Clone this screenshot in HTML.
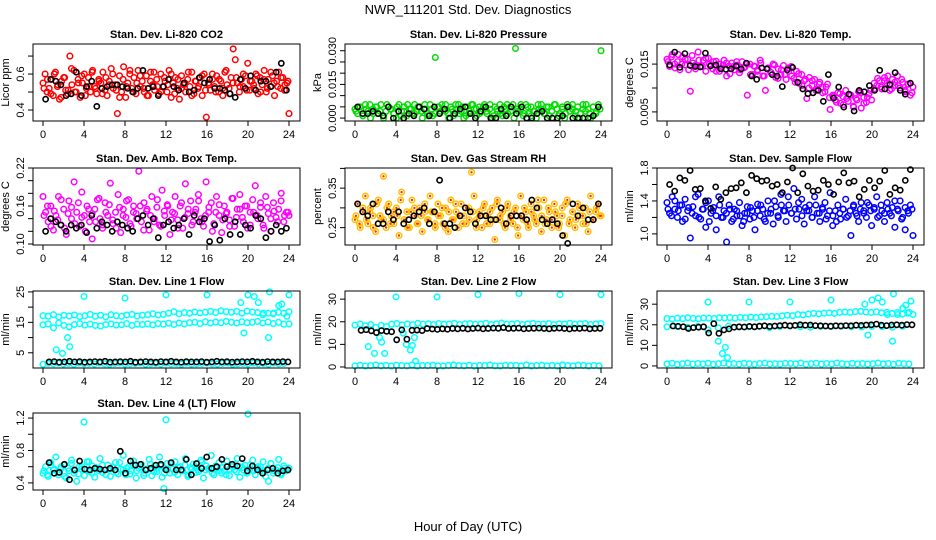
<!DOCTYPE html>
<html><head><meta charset="utf-8"><title>NWR_111201 Std. Dev. Diagnostics</title>
<style>
html,body{margin:0;padding:0;background:#fff;}
svg{display:block;font-family:"Liberation Sans",sans-serif;}
</style></head>
<body>
<svg id="chart" width="936" height="540" viewBox="0 0 936 540" xmlns="http://www.w3.org/2000/svg">
<rect x="0" y="0" width="936" height="540" fill="#fff"/>
<text x="468" y="14" text-anchor="middle" font-size="13">NWR_111201 Std. Dev. Diagnostics</text>
<text x="468" y="531" text-anchor="middle" font-size="13">Hour of Day (UTC)</text>
</svg>
<script>
// ---------- data ----------
const hourTicks = [0,4,8,12,16,20,24];

const co2Red = [0.55,0.60,0.50,0.52,0.57,0.48,0.61,0.53,0.46,0.56,0.58,0.51,0.49,0.70,0.54,0.62,0.50,0.57,0.47,0.55,
0.60,0.52,0.58,0.50,0.62,0.53,0.49,0.57,0.55,0.61,0.51,0.48,0.56,0.63,0.52,0.54,0.38,0.59,0.50,0.64,
0.47,0.55,0.60,0.52,0.58,0.49,0.62,0.53,0.56,0.50,0.59,0.48,0.61,0.54,0.51,0.57,0.49,0.60,0.53,0.56,
0.50,0.62,0.47,0.55,0.58,0.52,0.46,0.59,0.54,0.50,0.57,0.53,0.61,0.49,0.56,0.52,0.58,0.48,0.60,0.36,
0.55,0.51,0.57,0.53,0.59,0.50,0.56,0.48,0.61,0.54,0.52,0.58,0.74,0.68,0.55,0.50,0.57,0.53,0.59,0.66,
0.51,0.56,0.52,0.60,0.49,0.58,0.54,0.62,0.50,0.57,0.53,0.59,0.48,0.56,0.61,0.52,0.58,0.54,0.55,0.38];
const co2Red2 = [0.52,0.57,0.49,0.60,0.54,0.47,0.58,0.51,0.63,0.50,0.55,0.59,0.48,0.53,0.61,0.52,0.56,0.49,0.58,0.54,0.60,0.51,0.47,0.57,0.53,0.62,0.50,0.55,0.59,0.52,0.48,0.56,0.61,0.53,0.50,0.58,0.54,0.60,0.49,0.57,0.52,0.55,0.61,0.48,0.56,0.53,0.59,0.51,0.54,0.60,0.50,0.57,0.52,0.62,0.49,0.55,0.58,0.53,0.60,0.51,0.56,0.54,0.59,0.50,0.57,0.52,0.61,0.55,0.53,0.58,0.51,0.56];
const co2Black = [0.46,0.57,0.56,0.54,0.48,0.49,0.61,0.48,0.53,0.56,0.42,0.52,0.53,0.54,0.54,0.53,0.52,0.50,0.52,0.62,
0.52,0.53,0.48,0.53,0.57,0.53,0.51,0.55,0.50,0.51,0.58,0.55,0.57,0.52,0.52,0.51,0.49,0.47,0.57,0.52,
0.59,0.51,0.56,0.56,0.53,0.61,0.66,0.51];

const presGreen = [0.004,0.002,0.005,0.001,0.006,0.003,0.000,0.004,0.005,0.002,0.006,0.001,0.003,0.005,0.004,0.002,0.000,0.006,0.003,0.005,0.001,0.004,0.002,0.006,0.003,0.005,0.000,0.004,0.002,0.006,0.001,0.027,0.005,0.003,0.004,0.006,0.002,0.005,0.001,0.004,0.006,0.003,0.000,0.005,0.002,0.006,0.004,0.001,0.005,0.003,0.006,0.002,0.004,0.000,0.005,0.003,0.006,0.001,0.004,0.002,0.005,0.006,0.031,0.003,0.004,0.001,0.006,0.002,0.005,0.003,0.000,0.004,0.006,0.002,0.005,0.001,0.003,0.006,0.004,0.002,0.005,0.000,0.006,0.003,0.004,0.001,0.005,0.002,0.006,0.003,0.004,0.000,0.005,0.002,0.006,0.030];
const presGreen2 = [0.003,0.005,0.001,0.004,0.006,0.002,0.005,0.003,0.000,0.006,0.004,0.002,0.005,0.001,0.003,0.006,0.004,0.002,0.005,0.003,0.006,0.001,0.004,0.002,0.005,0.006,0.003,0.000,0.004,0.006,0.002,0.005,0.001,0.003,0.006,0.004,0.002,0.005,0.003,0.006,0.001,0.004,0.002,0.005,0.006,0.003,0.000,0.004,0.006,0.002,0.005,0.001,0.003,0.006,0.004,0.002,0.005,0.003,0.006,0.001,0.004,0.002,0.005,0.006,0.003,0.000,0.004,0.006,0.002,0.005,0.003,0.004];
const presBlack = [0.005,0.002,0.002,0.003,0.002,0.001,0.005,0.000,0.003,0.000,0.002,0.001,0.005,0.004,0.001,0.005,0.002,0.004,0.000,0.002,0.004,0.005,0.002,0.000,0.003,0.005,0.000,0.000,0.004,0.001,0.005,0.002,0.005,0.000,0.000,0.002,0.003,0.000,0.000,0.000,0.001,0.005,0.000,0.000,0.000,0.000,0.001,0.005];

const tempMagenta = [0.016,0.0145,0.017,0.015,0.0155,0.0138,0.0165,0.0148,0.016,0.0093,0.0152,0.014,0.0175,0.0145,0.0158,0.0135,0.0162,
0.0148,0.0155,0.0135,0.015,0.0142,0.0158,0.0125,0.0146,0.0152,0.0138,0.0148,0.0132,0.0155,0.0143,0.0085,0.0150,0.0128,0.0145,0.0138,0.0158,0.0125,0.0095,0.0142,0.0133,0.0150,0.0122,0.0140,0.0128,0.0147,0.0118,0.0135,0.0145,
0.0120,0.0135,0.0110,0.0128,0.0115,0.0078,0.0122,0.0105,0.0118,0.0098,0.0112,0.0102,0.0092,0.0108,0.0055,0.0085,
0.0075,0.0090,0.0068,0.0082,0.0095,0.0072,0.0085,0.0062,0.0078,0.0092,0.0058,0.0080,0.0070,0.0088,0.0075,0.0098,
0.0105,0.0115,0.0098,0.0122,0.0110,0.0095,0.0118,0.0105,0.0125,0.0100,0.0112,0.0092,0.0108,0.0085,0.0102];
const tempMagenta2 = [0.0155,0.0165,0.0142,0.0170,0.0150,0.0160,0.0138,0.0168,0.0148,0.0158,0.0145,0.0162,
0.0150,0.0140,0.0156,0.0135,0.0148,0.0152,0.0130,0.0145,0.0155,0.0138,0.0142,0.0150,0.0128,0.0146,0.0135,0.0152,0.0125,0.0140,0.0132,0.0148,0.0120,0.0138,0.0128,0.0142,
0.0125,0.0112,0.0130,0.0105,0.0118,0.0100,0.0115,0.0095,0.0108,0.0090,0.0102,0.0080,
0.0082,0.0070,0.0088,0.0065,0.0078,0.0085,0.0060,0.0075,0.0090,0.0068,0.0080,0.0095,
0.0110,0.0120,0.0102,0.0115,0.0125,0.0098,0.0112,0.0105,0.0118,0.0095,0.0108,0.0090];
const tempBlack = [0.0148,0.0175,0.0143,0.0172,0.0147,0.0145,0.0144,0.0173,0.0146,0.0148,0.0140,0.0139,0.0140,0.0146,0.0140,0.0152,0.0125,0.0118,0.0142,0.0140,0.0128,0.0125,0.0103,0.0138,0.0143,0.0112,0.0098,0.0088,0.0090,0.0095,0.0072,0.0128,0.0079,0.0102,0.0060,0.0087,0.0052,0.0095,0.0092,0.0105,0.0095,0.0137,0.0098,0.0107,0.0132,0.0095,0.0087,0.0110];

const ambMagenta = [0.175,0.150,0.135,0.160,0.122,0.145,0.175,0.130,0.155,0.115,0.168,0.140,0.198,0.150,0.128,0.182,0.145,0.160,0.135,0.108,0.155,0.170,0.140,0.125,0.165,0.145,0.196,0.132,0.150,0.178,0.118,0.155,0.142,0.170,0.128,0.160,0.148,0.215,0.135,0.165,0.152,0.122,0.175,0.140,0.158,0.130,0.185,0.145,0.162,0.115,0.150,0.175,0.138,0.160,0.125,0.195,0.148,0.168,0.135,0.155,0.178,0.140,0.128,0.198,0.150,0.165,0.132,0.175,0.145,0.118,0.160,0.150,0.138,0.172,0.128,0.155,0.178,0.142,0.160,0.125,0.150,0.170,0.192,0.140,0.158,0.130,0.175,0.148,0.120,0.165,0.142,0.155,0.180,0.135,0.150,0.145];
const ambMagenta2 = [0.145,0.160,0.128,0.152,0.138,0.170,0.125,0.148,0.158,0.132,0.165,0.142,0.120,0.155,0.148,0.135,0.172,0.130,0.150,0.162,0.138,0.125,0.158,0.145,0.168,0.132,0.150,0.140,0.160,0.122,0.155,0.145,0.135,0.170,0.128,0.152,0.160,0.138,0.148,0.125,0.165,0.142,0.155,0.130,0.150,0.168,0.135,0.145,0.158,0.120,0.150,0.162,0.138,0.148,0.128,0.172,0.142,0.155,0.135,0.160,0.130,0.150,0.145,0.165,0.125,0.158,0.140,0.152,0.135,0.168,0.145,0.150];
const ambBlack = [0.12,0.14,0.135,0.13,0.12,0.13,0.125,0.13,0.118,0.145,0.125,0.135,0.13,0.12,0.135,0.13,0.125,0.12,0.14,0.145,0.13,0.14,0.11,0.13,0.135,0.125,0.13,0.14,0.115,0.145,0.135,0.14,0.104,0.13,0.106,0.14,0.115,0.135,0.115,0.13,0.125,0.145,0.14,0.11,0.12,0.13,0.12,0.125];

const rhOrange = [0.27,0.31,0.25,0.29,0.33,0.26,0.30,0.28,0.24,0.32,0.27,0.38,0.25,0.31,0.28,0.26,0.30,0.23,0.34,0.27,0.29,0.25,0.32,0.28,0.26,0.30,0.24,0.29,0.27,0.33,0.29,0.25,0.31,0.28,0.26,0.30,0.24,0.32,0.27,0.29,0.25,0.31,0.28,0.26,0.30,0.39,0.33,0.27,0.29,0.25,0.31,0.28,0.26,0.30,0.22,0.32,0.27,0.29,0.25,0.31,0.28,0.26,0.30,0.23,0.33,0.27,0.29,0.25,0.31,0.28,0.26,0.30,0.24,0.32,0.27,0.29,0.25,0.31,0.28,0.26,0.30,0.23,0.32,0.27,0.29,0.25,0.31,0.28,0.26,0.30,0.24,0.33,0.27,0.29,0.31,0.28];
const rhOrange2 = [0.28,0.26,0.30,0.27,0.29,0.25,0.31,0.28,0.27,0.30,0.26,0.29,0.28,0.32,0.27,0.25,0.29,0.30,0.26,0.28,0.31,0.27,0.29,0.26,0.28,0.30,0.25,0.29,0.27,0.31,0.28,0.26,0.30,0.27,0.29,0.25,0.28,0.30,0.26,0.29,0.27,0.31,0.28,0.26,0.30,0.27,0.29,0.25,0.28,0.30,0.26,0.29,0.27,0.32,0.28,0.26,0.30,0.27,0.29,0.25,0.28,0.31,0.26,0.29,0.27,0.30,0.28,0.26,0.29,0.27,0.30,0.28];
const rhBlack = [0.31,0.29,0.28,0.31,0.26,0.26,0.29,0.27,0.29,0.26,0.27,0.28,0.29,0.30,0.26,0.29,0.37,0.26,0.26,0.25,0.28,0.30,0.29,0.26,0.28,0.28,0.27,0.27,0.30,0.26,0.28,0.28,0.28,0.27,0.32,0.30,0.27,0.26,0.27,0.26,0.23,0.21,0.31,0.28,0.30,0.27,0.27,0.31];

const flowBlue = [1.38,1.25,1.45,1.30,1.20,1.35,1.15,1.42,1.28,0.95,1.33,1.22,1.48,1.18,1.30,1.08,1.40,1.25,1.32,1.05,1.45,1.20,1.28,0.90,1.35,1.15,1.30,1.22,1.38,1.10,1.25,1.33,1.18,1.28,1.05,1.36,1.22,1.30,1.15,1.40,1.25,1.12,1.33,1.20,1.48,1.28,1.15,1.35,1.25,1.55,1.18,1.30,1.42,1.12,1.28,1.35,1.20,1.45,1.25,1.15,1.32,1.38,1.22,1.50,1.10,1.28,1.35,1.18,1.30,1.42,1.22,0.98,1.33,1.25,1.15,1.38,1.28,1.20,1.35,1.10,1.30,1.45,1.22,1.28,1.15,1.38,1.25,1.32,1.08,1.30,1.40,1.20,1.05,1.28,1.35,0.98];
const flowBlue2 = [1.30,1.22,1.40,1.28,1.35,1.18,1.32,1.25,1.45,1.20,1.30,1.38,1.15,1.28,1.22,1.35,1.20,1.25,1.30,1.18,1.28,1.22,1.15,1.25,1.32,1.20,1.28,1.35,1.18,1.25,1.30,1.40,1.22,1.35,1.28,1.45,1.25,1.30,1.38,1.22,1.32,1.28,1.20,1.35,1.25,1.30,1.18,1.28,1.22,1.15,1.25,1.30,1.20,1.28,1.35,1.22,1.30,1.25,1.38,1.28,1.32,1.20,1.35,1.25,1.30,1.22,1.40,1.28,1.18,1.32,1.25,1.30];
const flowBlack = [1.60,1.52,1.68,1.65,1.77,1.54,1.55,1.40,1.31,1.57,1.42,1.50,1.55,1.56,1.62,1.50,1.71,1.67,1.64,1.65,1.58,1.60,1.50,1.63,1.80,1.50,1.73,1.58,1.52,1.53,1.65,1.60,1.48,1.63,1.74,1.62,1.64,1.45,1.54,1.65,1.56,1.64,1.77,1.48,1.56,1.53,1.65,1.78];

const l1Upper = [17.2,17.0,17.5,16.8,17.3,17.1,17.4,16.9,17.2,17.6,17.0,17.3,16.8,17.5,17.2,17.0,17.4,17.6,17.1,17.3,17.5,17.8,17.4,17.6,18.0,18.5,17.8,18.2,18.0,18.4,18.1,18.3,18.6,18.2,18.8,18.5,18.3,18.6,18.0,18.7,18.4,18.2,17.5,18.0,17.8,18.3,18.0,18.5];
const l1Lower = [14.2,14.5,13.2,14.8,14.0,13.5,14.3,14.6,14.1,14.4,14.0,13.8,14.3,14.5,14.1,14.2,14.6,14.0,14.4,14.3,14.5,14.2,14.6,14.4,14.7,14.3,14.8,14.5,14.9,15.0,14.6,15.2,14.8,15.1,14.9,15.3,15.0,14.8,15.2,14.9,15.0,15.3,14.8,15.1,14.6,15.0,14.4,14.5];
const l1Base = [1.2,1.5,1.4,1.6,1.3,1.5,1.2,1.6,1.4,1.5,1.3,1.6,1.4,1.2,1.5,1.6,1.3,1.4,1.5,1.6,1.2,1.4,1.5,1.3,1.6,1.4,1.5,1.2,1.6,1.3,1.4,1.5,1.6,1.4,1.3,1.5,1.6,1.2,1.4,1.5,1.3,1.6,1.4,1.5,1.2,1.6,1.4,1.5];
const l1Black = [2.0,2.1,1.9,2.0,2.2,2.0,2.1,1.9,2.0,2.1,2.0,2.2,1.9,2.0,2.1,2.0,2.2,1.9,2.0,2.1,2.0,1.9,2.1,2.0,2.2,2.0,1.9,2.1,2.0,2.0,2.1,1.9,2.0,2.2,2.0,2.1,1.9,2.0,2.1,2.0,2.2,2.0,1.9,2.1,2.0,2.0,2.1,2.0];
const l1SpikeHours = [1.3,1.9,2.4,2.6,4,8,12,16,19.3,19.6,20,20.6,21,21.5,22,22.1,22.5,23,23.3,23.8,24];
const l1SpikeVals = [6,4.8,10,7,23.5,23,24,24,21.5,11.5,24,23.5,21.5,18,10,25,18,20.5,21,17,24];

const l2Upper = [18.5,19.0,18.2,18.8,17.5,18.4,17.8,18.9,19.2,18.6,19.0,18.7,19.3,18.9,19.1,18.8,19.2,18.9,19.0,19.3,18.8,19.1,19.2,18.9,19.0,19.3,18.8,19.1,19.4,18.9,19.0,19.2,18.8,19.1,19.3,18.9,19.0,19.2,18.8,19.1,19.0,19.3,18.9,19.1,19.2,18.8,19.0,19.2];
const l2Base = [0.5,0.8,0.4,0.6,0.9,0.5,0.7,0.4,0.8,0.6,0.5,0.9,0.4,0.7,0.6,0.8,0.5,0.4,0.7,0.9,0.6,0.5,0.8,0.4,0.7,0.6,0.9,0.5,0.4,0.8,0.6,0.7,0.5,0.9,0.4,0.6,0.8,0.5,0.7,0.4,0.9,0.6,0.5,0.8,0.7,0.4,0.6,0.5];
const l2Black = [16.2,16.5,16.0,15.2,16.1,15.8,15.6,12.0,16.4,12.3,16.2,16.3,16.1,17.0,16.8,16.6,16.9,16.7,17.0,16.9,17.1,16.8,17.0,17.2,16.9,17.0,17.2,17.1,17.4,17.0,17.1,17.2,16.9,17.0,17.1,17.2,17.0,16.9,17.1,17.2,17.0,16.8,17.1,17.0,17.2,16.9,17.0,17.1];
const l2SpikeHours = [1.3,1.9,2.4,2.6,2.9,4,4.7,5,5.4,5.6,5.8,5.9,8,12,16,20,24];
const l2SpikeVals = [9,6,13,11,6,31,15,10,7.5,9.5,13,2.5,31,32,32.5,32,32];

const l3Upper = [23.0,22.8,23.2,23.0,23.4,23.1,22.9,23.3,23.2,23.0,23.4,23.3,23.5,23.2,23.6,23.4,23.7,23.5,23.8,23.9,24.1,24.0,24.3,24.6,24.4,25.0,24.8,25.2,25.5,25.3,25.6,25.8,25.5,26.0,26.2,26.0,26.4,26.5,26.2,26.0,26.3,25.8,26.0,25.5,25.9,25.2,25.6,25.0];
const l3Mid = [19.0,19.2,18.8,19.1,17.5,18.5,19.3,18.9,19.0,19.2,18.6,19.1,19.4,19.0,18.8,19.2,19.1,19.3,19.0,18.9,19.2,19.1,18.8,19.3];
const l3Base = [1.0,1.3,0.8,1.1,1.4,0.9,1.2,1.0,1.3,0.8,1.1,1.4,1.0,1.2,0.9,1.3,1.1,0.8,1.2,1.4,1.0,1.1,0.9,1.3,1.2,1.0,1.4,0.8,1.1,1.3,0.9,1.2,1.0,1.4,1.1,0.8,1.3,1.0,1.2,0.9,1.1,1.4,1.0,1.2,0.8,1.3,1.1,1.0];
const l3Black = [19.4,19.2,19.0,18.2,18.6,18.8,19.0,16.0,20.5,15.8,17.5,18.0,18.8,19.0,18.9,19.2,19.0,19.3,19.5,19.2,19.4,19.6,19.8,19.5,19.7,20.0,19.8,19.9,19.6,19.5,19.4,19.3,19.5,19.4,19.6,19.5,19.8,19.7,19.9,20.0,20.3,19.8,19.6,19.9,20.0,19.8,20.1,20.0];
const l3SpikeHours = [4,5,5.4,5.7,5.9,8,12,16,19.3,19.6,20,20.6,21,21.5,22,22.1,22.5,23,23.3,23.6,23.8];
const l3SpikeVals = [31,12,6,9,4,31,31,32,30,15,32,33,31,25,12,35,25,28,29.5,26,31.5];

const l4Cyan = [0.52,0.60,0.48,0.65,0.56,0.72,0.50,0.58,0.62,0.46,0.55,0.68,0.52,0.42,0.60,0.57,0.49,0.66,0.54,0.61,0.47,0.58,0.70,0.53,0.56,0.62,0.48,0.59,0.65,0.51,0.57,0.74,0.50,0.60,0.55,0.67,0.46,0.58,0.63,0.52,0.56,0.69,0.49,0.61,0.54,0.72,0.47,0.58,0.64,0.52,0.57,0.66,0.50,0.60,0.55,0.70,0.48,0.59,0.63,0.53,0.56,0.68,0.46,0.61,0.57,0.74,0.50,0.58,0.65,0.52,0.55,0.67,0.49,0.60,0.56,0.70,0.47,0.59,0.62,0.53,0.57,0.68,0.50,0.60,0.55,0.66,0.48,0.58,0.64,0.52,0.56,0.69,0.50,0.61,0.55,0.58];
const l4Cyan2 = [0.55,0.50,0.62,0.57,0.53,0.60,0.48,0.58,0.64,0.55,0.51,0.60,0.57,0.66,0.52,0.59,0.55,0.62,0.50,0.57,0.60,0.53,0.65,0.56,0.58,0.51,0.62,0.55,0.60,0.49,0.57,0.63,0.54,0.58,0.61,0.52,0.56,0.64,0.53,0.59,0.55,0.62,0.50,0.57,0.60,0.54,0.66,0.56,0.58,0.52,0.61,0.55,0.59,0.50,0.57,0.63,0.54,0.60,0.56,0.52,0.62,0.55,0.58,0.60,0.53,0.57,0.64,0.55,0.59,0.52,0.58,0.56];
const l4Black = [0.65,0.52,0.53,0.63,0.44,0.56,0.67,0.57,0.56,0.58,0.57,0.56,0.58,0.56,0.79,0.52,0.67,0.62,0.63,0.56,0.58,0.62,0.63,0.56,0.65,0.56,0.56,0.69,0.50,0.64,0.58,0.72,0.58,0.60,0.69,0.60,0.63,0.61,0.70,0.55,0.61,0.56,0.52,0.56,0.58,0.52,0.55,0.56];
const l4SpikeHours = [4,11.8,12,20,22];
const l4SpikeVals = [1.15,0.33,1.18,1.25,0.42];

// ---------- layout ----------
const NS = "http://www.w3.org/2000/svg";
const svg = document.getElementById('chart');
const colX0 = [43,355,667];
const rowTop = [44,168,291,413];
const PW = 246, PH = 77;

const panels = [
 {c:0,r:0,title:"Stan. Dev. Li-820 CO2",ylab:"Licor ppm",ymin:0.339,ymax:0.767,ticks:[0.4,0.5,0.6,0.7],labels:[0.4,0.6],dec:1,
  series:[{y:co2Red,col:"#ff0000",x0:0,x1:24},{y:co2Red2,col:"#ff0000",x0:0.1,x1:23.9},{y:co2Black,col:"#000",x0:0.25,x1:23.75}]},
 {c:1,r:0,title:"Stan. Dev. Li-820 Pressure",ylab:"kPa",ymin:-0.0013,ymax:0.033,ticks:[0,0.005,0.01,0.015,0.02,0.025,0.03],labels:[0,0.015,0.03],dec:3,
  series:[{y:presGreen,col:"#00dd00",x0:0,x1:24},{y:presGreen2,col:"#00dd00",x0:0.1,x1:23.9},{y:presBlack,col:"#000",x0:0.25,x1:23.75}]},
 {c:2,r:0,title:"Stan. Dev. Li-820 Temp.",ylab:"degrees C",ymin:0.0031,ymax:0.0192,ticks:[0.005,0.01,0.015],labels:[0.005,0.015],dec:3,
  series:[{y:tempMagenta,col:"#ff00ff",x0:0,x1:24},{y:tempMagenta2,col:"#ff00ff",x0:0.1,x1:23.9},{y:tempBlack,col:"#000",x0:0.25,x1:23.75}]},
 {c:0,r:1,title:"Stan. Dev. Amb. Box Temp.",ylab:"degrees C",ymin:0.0984,ymax:0.22,ticks:[0.1,0.12,0.14,0.16,0.18,0.2,0.22],labels:[0.1,0.16,0.22],dec:2,
  series:[{y:ambMagenta,col:"#ff00ff",x0:0,x1:24},{y:ambMagenta2,col:"#ff00ff",x0:0.1,x1:23.9},{y:ambBlack,col:"#000",x0:0.25,x1:23.75}]},
 {c:1,r:1,title:"Stan. Dev. Gas Stream RH",ylab:"percent",ymin:0.206,ymax:0.401,ticks:[0.25,0.3,0.35,0.4],labels:[0.25,0.35],dec:2,
  series:[{y:rhOrange,col:"#ffc000",x0:0,x1:24,inner:"#ff3000"},{y:rhOrange2,col:"#ffc000",x0:0.1,x1:23.9,inner:"#ff3000"},{y:rhBlack,col:"#000",x0:0.25,x1:23.75}]},
 {c:2,r:1,title:"Stan. Dev. Sample Flow",ylab:"ml/min",ymin:0.865,ymax:1.8,ticks:[1.0,1.2,1.4,1.6,1.8],labels:[1.0,1.4,1.8],dec:1,
  series:[{y:flowBlue,col:"#0000ff",x0:0,x1:24},{y:flowBlue2,col:"#0000ff",x0:0.1,x1:23.9},{y:flowBlack,col:"#000",x0:0.25,x1:23.75}]},
 {c:0,r:2,title:"Stan. Dev. Line 1 Flow",ylab:"ml/min",ymin:0,ymax:25.3,ticks:[5,10,15,20,25],labels:[5,15,25],dec:0,
  series:[{y:l1Upper,col:"#00ffff",x0:0,x1:24},{y:l1Lower,col:"#00ffff",x0:0,x1:24},{y:l1Base,col:"#00ffff",x0:0,x1:23.5},
          {y:l1SpikeVals,xs:l1SpikeHours,col:"#00ffff"},{y:l1Black,col:"#000",x0:0.6,x1:23.9}]},
 {c:1,r:2,title:"Stan. Dev. Line 2 Flow",ylab:"ml/min",ymin:-0.45,ymax:33.6,ticks:[0,10,20,30],labels:[0,10,20,30],dec:0,
  series:[{y:l2Upper,col:"#00ffff",x0:0,x1:24},{y:l2Base,col:"#00ffff",x0:0,x1:23.8},
          {y:l2SpikeVals,xs:l2SpikeHours,col:"#00ffff"},{y:l2Black,col:"#000",x0:0.6,x1:23.9}]},
 {c:2,r:2,title:"Stan. Dev. Line 3 Flow",ylab:"ml/min",ymin:-1,ymax:36.4,ticks:[0,10,20,30],labels:[0,10,20,30],dec:0,
  series:[{y:l3Upper,col:"#00ffff",x0:0,x1:24},{y:l3Mid,col:"#00ffff",x0:0,x1:23},{y:l3Base,col:"#00ffff",x0:0,x1:23.6},
          {y:l3SpikeVals,xs:l3SpikeHours,col:"#00ffff"},{y:l3Black,col:"#000",x0:0.6,x1:23.9}]},
 {c:0,r:3,title:"Stan. Dev. Line 4 (LT) Flow",ylab:"ml/min",ymin:0.3125,ymax:1.2625,ticks:[0.4,0.6,0.8,1.0,1.2],labels:[0.4,0.8,1.2],dec:1,
  series:[{y:l4Cyan,col:"#00ffff",x0:0,x1:24},{y:l4Cyan2,col:"#00ffff",x0:0.1,x1:23.9},{y:l4SpikeVals,xs:l4SpikeHours,col:"#00ffff"},{y:l4Black,col:"#000",x0:0.6,x1:23.9}]}
];

function mk(tag,attrs,parent){const e=document.createElementNS(NS,tag);for(const k in attrs)e.setAttribute(k,attrs[k]);(parent||svg).appendChild(e);return e;}

panels.forEach((p,pi)=>{
  const g = mk('g',{});
  
  
  const x0 = colX0[p.c], top = rowTop[p.r], bot = top+PH;
  const left = x0-10, right = x0+PW+11;
  const xs = h => x0 + h/24*PW;
  const ys = v => bot - (v-p.ymin)/(p.ymax-p.ymin)*PH;

  p.series.forEach((s,si)=>{
    const sg = mk('g',{},g);
    
    
    const blk = s.col==="#000";
    s.y.forEach((v,i)=>{
      const h = s.xs ? s.xs[i] : (s.x0 + (s.x1-s.x0)*i/Math.max(1,s.y.length-1));
      const c = mk('circle',{cx:xs(h).toFixed(1),cy:ys(v).toFixed(1),r:blk?2.6:2.8,fill:'none',stroke:s.col,'stroke-width':blk?1.6:1.5},sg);
      
      
      if(s.inner){
        const c2 = mk('circle',{cx:xs(h).toFixed(1),cy:ys(v).toFixed(1),r:1.2,fill:s.inner},sg);
        
        
      }
    });
  });

  const box = mk('rect',{x:left,y:top,width:right-left,height:PH,fill:'none',stroke:'#000','stroke-width':1},g);
  
  

  const t = mk('text',{x:(left+right)/2,y:top-6,'text-anchor':'middle','font-size':11,'font-weight':'bold'},g);
  t.textContent = p.title;
  
  

  hourTicks.forEach(h=>{
    const tk = mk('line',{x1:xs(h),x2:xs(h),y1:bot,y2:bot+5,stroke:'#000'},g);
    
    
    const tl = mk('text',{x:xs(h),y:bot+17,'text-anchor':'middle','font-size':11},g);
    tl.textContent = h;
    
    
  });

  p.ticks.forEach(v=>{
    const y = ys(v);
    const tk = mk('line',{x1:left-5,x2:left,y1:y,y2:y,stroke:'#000'},g);
    
    
  });
  p.labels.forEach(v=>{
    const y = ys(v), lx = left-9;
    const tl = mk('text',{x:lx,y:y,'text-anchor':'middle','font-size':11,transform:`rotate(-90 ${lx} ${y})`},g);
    tl.textContent = v.toFixed(p.dec);
    
    
  });
  const yl = left-24, ym = (top+bot)/2;
  const ylab = mk('text',{x:yl,y:ym,'text-anchor':'middle','font-size':11,transform:`rotate(-90 ${yl} ${ym})`},g);
  ylab.textContent = p.ylab;
  
  
});
</script>
</body></html>
